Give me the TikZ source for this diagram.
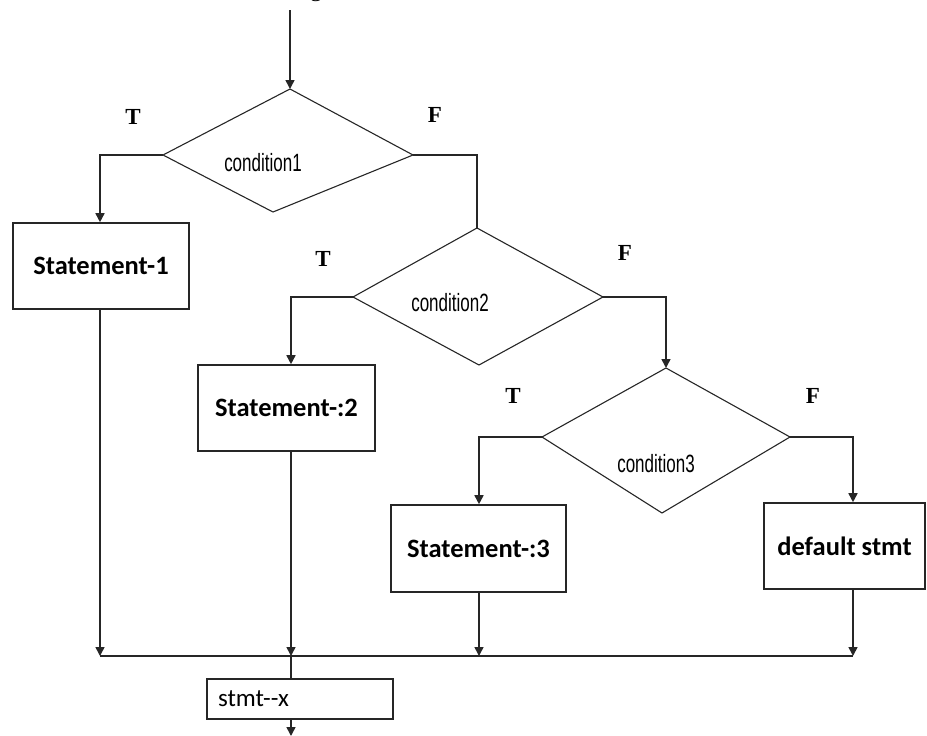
\documentclass[tikz,border=0pt]{standalone}
\usepackage{fontspec}
\usetikzlibrary{arrows.meta}
\newfontfamily\boxfont{Carlito}
\newfontfamily\condfont[FakeStretch=0.68]{Liberation Sans}
\newfontfamily\labfont{Liberation Serif}

\begin{document}
\begin{tikzpicture}[x=1pt,y=-1pt,
  conn/.style={line width=1.6pt, draw=black!85},
  arr/.style={conn, -{Triangle[width=9pt,length=9pt]}},
  stmtbox/.style={draw=black!85, line width=1.6pt, inner sep=0pt,
    font=\boxfont\bfseries\fontsize{26.5}{30}\selectfont},
  condtext/.style={font=\condfont\fontsize{25}{28}\selectfont, inner sep=0pt},
  tflabel/.style={font=\labfont\bfseries\fontsize{23}{26}\selectfont, inner sep=0pt},
  dia/.style={draw=black!85, line width=1.1pt, line join=miter}]

\useasboundingbox (0,0) rectangle (927,736);

% caption text running off the top edge
\node[font=\labfont\fontsize{24}{28}\selectfont, anchor=base, inner sep=0pt] (cap) at (316,-3) {g};

% decision diamonds (vertices)
\coordinate (d1t) at (290,89);  \coordinate (d1r) at (413,155);
\coordinate (d1b) at (273,212); \coordinate (d1l) at (163,155);
\coordinate (d2t) at (477,228); \coordinate (d2r) at (603,297);
\coordinate (d2b) at (479,365); \coordinate (d2l) at (353,297);
\coordinate (d3t) at (666,368); \coordinate (d3r) at (790,437);
\coordinate (d3b) at (662,513); \coordinate (d3l) at (542,437);
\draw[dia] (d1t) -- (d1r) -- (d1b) -- (d1l) -- cycle;
\draw[dia] (d2t) -- (d2r) -- (d2b) -- (d2l) -- cycle;
\draw[dia] (d3t) -- (d3r) -- (d3b) -- (d3l) -- cycle;
\node[condtext] (c1) at (263,163) {condition1};
\node[condtext] (c2) at (450,303) {condition2};
\node[condtext] (c3) at (656,464) {condition3};

% branch labels
\node[tflabel] (t1) at (133,117) {T};
\node[tflabel] (f1) at (435,115) {F};
\node[tflabel] (t2) at (323,259) {T};
\node[tflabel] (f2) at (625,253) {F};
\node[tflabel] (t3) at (513,396) {T};
\node[tflabel] (f3) at (813,396) {F};

% statement boxes
\node[stmtbox, minimum width=176pt, minimum height=86pt] (s1) at (101,266) {Statement-1};
\node[stmtbox, minimum width=177pt, minimum height=86pt] (s2) at (286.5,408) {Statement-:2};
\node[stmtbox, minimum width=175pt, minimum height=87pt] (s3) at (478.5,548.5) {Statement-:3};
\node[stmtbox, minimum width=161pt, minimum height=86pt] (dflt) at (844.5,546) {default stmt};
\node[stmtbox, minimum width=186pt, minimum height=40pt, inner xsep=11pt,
  text width=164pt, align=left, font=\boxfont\fontsize{25}{28}\selectfont] (sx) at (300,699) {stmt--x};

% merge line
\coordinate (col1) at (100,656);
\coordinate (col2) at (291,656);
\coordinate (col3) at (479,656);
\coordinate (col4) at (853,656);
\coordinate (start) at (290,10);
\coordinate (finish) at (291,736);

% connectors
\draw[arr] (start) -- (d1t);
\draw[arr] (d1l) -| (s1.north -| col1);
\draw[conn] (d1r) -| (d2t);
\draw[arr] (d2l) -| (s2.north -| col2);
\draw[arr] (d2r) -| (d3t);
\draw[arr] (d3l) -| (s3.north -| col3);
\draw[arr] (d3r) -| (dflt.north -| col4);
\draw[arr] (s1.south -| col1) -- (col1);
\draw[arr] (s2.south -| col2) -- (col2);
\draw[arr] (s3.south -| col3) -- (col3);
\draw[arr] (dflt.south -| col4) -- (col4);
\draw[conn] (col1) -- (col4);
\draw[conn] (col2) -- (sx.north -| col2);
\draw[arr] (sx.south -| col2) -- (finish);
\end{tikzpicture}
\end{document}
